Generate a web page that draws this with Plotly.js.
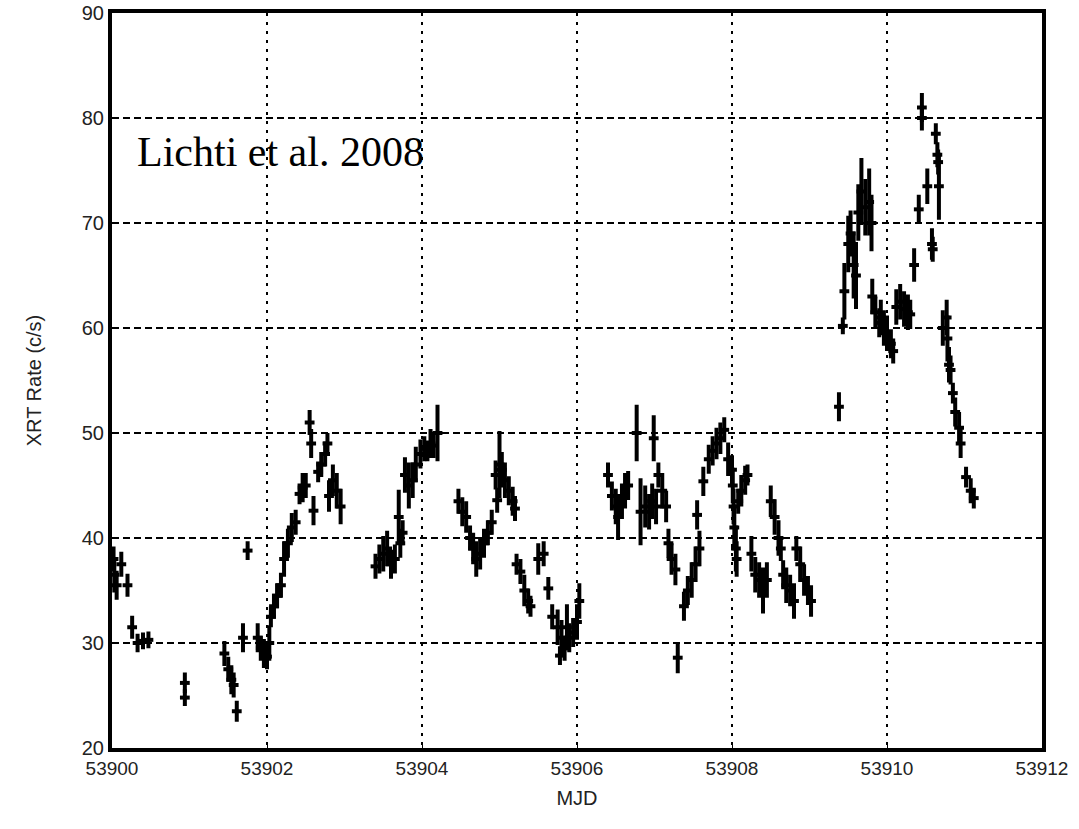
<!DOCTYPE html>
<html>
<head>
<meta charset="utf-8">
<script src="https://cdn.plot.ly/plotly-3.0.1.min.js"></script>
<style>html,body{margin:0;padding:0;background:#fff;}#chart{width:1079px;height:829px;}</style>
</head>
<body>
<div id="chart"></div>
<script>
const mjd = [
53900.02,53900.03,53900.06,53900.12,53900.20,53900.26,53900.33,53900.40,53900.47,53900.94,53900.94,
53901.45,53901.50,53901.54,53901.57,53901.61,53901.69,53901.75,53901.88,53901.92,53901.96,53902.00,53902.03,
53902.05,53902.09,53902.13,53902.18,53902.22,53902.27,53902.32,53902.37,53902.42,53902.46,53902.50,53902.55,
53902.57,53902.60,53902.66,53902.70,53902.75,53902.78,53902.80,53902.85,53902.90,53902.95,
53903.40,53903.45,53903.50,53903.55,53903.60,53903.65,53903.70,53903.72,53903.75,53903.78,53903.83,53903.88,
53903.92,53903.98,53904.03,53904.07,53904.11,53904.15,53904.20,
53904.47,53904.52,53904.57,53904.62,53904.66,53904.70,53904.75,53904.80,53904.85,53904.90,53904.95,53904.97,
53905.00,53905.03,53905.07,53905.12,53905.17,53905.20,53905.22,53905.27,53905.32,53905.37,53905.40,53905.50,
53905.57,53905.63,53905.68,53905.75,53905.78,53905.80,53905.84,53905.87,53905.90,53905.95,53906.00,53906.03,
53906.40,53906.45,53906.50,53906.53,53906.58,53906.62,53906.66,53906.77,53906.82,53906.88,53906.93,53906.97,
53906.99,53907.02,53907.05,53907.10,53907.15,53907.18,53907.22,53907.27,53907.30,53907.38,53907.43,53907.48,
53907.53,53907.55,53907.58,53907.63,53907.70,53907.75,53907.80,53907.85,53907.90,53907.95,53908.00,
53908.01,53908.02,53908.03,53908.05,53908.06,53908.08,53908.12,53908.17,53908.20,53908.25,53908.30,53908.35,
53908.40,53908.45,53908.50,53908.55,53908.60,53908.63,53908.66,53908.70,53908.75,53908.80,53908.83,53908.88,
53908.93,53908.98,53909.02,
53909.38,53909.43,53909.45,53909.50,53909.53,53909.57,53909.60,53909.63,53909.67,53909.72,53909.77,53909.80,
53909.81,53909.85,53909.90,53909.92,53909.96,53910.00,53910.05,53910.08,53910.12,53910.17,53910.22,53910.27,
53910.30,53910.35,53910.41,53910.45,53910.45,53910.52,53910.58,53910.59,53910.63,53910.65,53910.66,53910.67,
53910.72,53910.77,53910.78,53910.80,53910.82,53910.85,53910.88,53910.93,53910.95,53911.02,53911.08,53911.12
];
const rate = [
38.0,36.5,35.5,37.5,35.5,31.5,30.0,30.2,30.3,26.2,24.8,
29.0,27.5,26.5,26.0,23.5,30.5,38.8,30.5,29.5,29.0,28.7,30.0,
32.5,33.5,34.5,35.5,38.0,39.5,41.0,41.5,44.2,44.8,45.0,51.0,
49.0,42.6,46.3,47.0,48.0,49.0,44.0,45.5,44.5,43.0,
37.3,38.0,38.5,39.0,37.5,38.0,42.0,39.5,40.5,46.0,45.0,45.5,
47.0,48.0,48.5,48.3,49.0,48.8,50.0,
43.5,42.5,42.0,40.0,39.0,38.0,38.5,39.5,40.5,41.5,46.0,43.6,
47.0,46.5,45.5,44.5,43.5,42.8,37.5,36.8,35.0,34.0,33.5,38.0,
38.5,35.2,32.5,31.5,28.8,30.5,29.5,31.5,30.5,31.0,32.0,34.0,
46.0,44.0,43.0,42.0,43.5,44.5,45.0,50.0,42.5,43.0,42.5,43.5,
49.5,43.0,46.0,44.5,43.0,39.5,38.0,37.0,28.6,33.5,35.0,36.0,
37.5,42.2,39.0,45.4,47.5,48.3,49.0,49.5,50.3,47.5,46.5,
45.0,43.0,41.0,39.0,38.0,43.5,44.5,45.5,46.0,38.5,36.5,36.0,
35.0,36.0,43.5,42.0,40.0,39.0,36.5,35.5,35.0,34.0,39.0,37.5,
36.0,35.0,34.0,
52.5,60.2,63.5,68.0,69.0,66.0,65.0,71.0,73.0,71.5,72.0,70.0,
63.0,61.5,60.5,61.0,60.0,59.5,58.5,57.8,62.0,62.5,61.8,61.5,
61.3,66.0,71.3,81.0,80.0,73.5,68.0,67.5,78.5,76.5,75.8,73.5,
60.0,61.0,59.0,56.5,56.0,53.8,52.0,50.5,49.0,45.8,44.5,43.8
];
const err = [
1.0,1.5,1.2,1.0,0.9,0.9,0.7,0.6,0.6,0.8,0.6,
1.0,1.0,1.2,1.0,0.8,1.2,0.7,1.2,1.0,1.2,1.0,1.5,
0.8,1.0,1.0,1.0,1.5,1.2,1.2,1.0,0.8,1.2,1.0,1.0,
1.2,1.2,0.8,1.0,1.0,0.8,1.3,1.3,1.5,1.5,
1.0,1.2,1.5,1.5,1.2,1.2,2.4,1.2,1.0,1.5,2.0,1.5,
1.5,1.2,1.0,0.8,1.2,1.0,2.5,
1.0,1.2,1.3,1.0,1.3,1.5,1.3,1.2,1.0,1.0,1.2,1.0,
3.0,1.5,1.5,1.2,1.2,1.0,0.8,1.0,1.3,1.0,0.8,1.3,
1.0,0.9,1.0,1.5,0.7,1.5,1.0,2.0,1.2,1.2,1.5,1.5,
1.0,1.2,1.5,2.0,1.5,1.5,1.2,2.5,3.0,1.8,1.5,1.5,
2.0,1.5,1.0,1.5,1.3,1.2,1.3,1.3,1.3,1.2,1.2,1.5,
1.5,1.2,1.5,1.2,1.2,1.2,1.3,1.3,1.0,1.4,1.2,
1.5,1.5,2.0,2.0,1.5,1.0,1.3,1.2,0.8,1.5,1.5,1.5,
2.0,1.5,1.3,1.5,1.5,1.0,1.2,1.5,1.3,1.5,1.0,1.5,
1.3,1.2,1.3,
1.2,0.6,2.5,2.5,2.0,3.0,3.0,2.5,3.0,2.5,3.0,2.5,
1.5,1.3,1.2,1.5,1.5,1.5,1.2,1.0,1.5,1.5,1.5,1.5,
1.2,1.4,1.2,1.2,1.0,1.5,1.3,1.0,0.8,1.0,1.0,3.0,
1.5,1.5,2.0,1.5,1.2,0.8,1.2,1.3,1.2,0.8,1.0,0.8
];
const xTicks = [53900,53902,53904,53906,53908,53910,53912];
const xTickText = ["53900","53902","53904","53906","53908","53910","53912"];
const yTicks = [20,30,40,50,60,70,80,90];
const yTickText = ["20","30","40","50","60","70","80","90"];
const xTitle = "MJD";
const yTitle = "XRT Rate (c/s)";
const note = "Lichti et al. 2008";

const trace = {
  x: mjd, y: rate, type: 'scatter', mode: 'markers',
  marker: {symbol: 'line-ew', size: 7, color: 'black', line: {width: 4, color: 'black'}},
  error_y: {type: 'data', array: err, visible: true, color: 'black', thickness: 4, width: 2},
  showlegend: false, hoverinfo: 'skip'
};
const tickFont = {family: 'Liberation Sans Narrow, Liberation Sans, Arial, sans-serif', size: 19, color: '#222'};
const layout = {
  width: 1079, height: 829,
  margin: {l: 112, r: 37, t: 13, b: 81},
  paper_bgcolor: '#fff', plot_bgcolor: '#fff',
  xaxis: {
    range: [53900, 53912], tickvals: xTicks, ticktext: xTickText,
    showgrid: true, gridcolor: '#000', gridwidth: 2, griddash: '3px,6px',
    zeroline: false, showline: true, linecolor: '#000', linewidth: 4, mirror: true,
    ticks: 'inside', ticklen: 5, tickcolor: '#000', tickwidth: 1,
    tickfont: tickFont,
    title: {text: xTitle, font: {family: 'Liberation Sans Narrow, Liberation Sans, sans-serif', size: 20, color: '#222'}, standoff: 14}
  },
  yaxis: {
    range: [20, 90], tickvals: yTicks, ticktext: yTickText,
    showgrid: true, gridcolor: '#000', gridwidth: 2, griddash: '7px,4px',
    zeroline: false, showline: true, linecolor: '#000', linewidth: 4, mirror: true,
    ticks: 'inside', ticklen: 5, tickcolor: '#000', tickwidth: 1,
    tickfont: {family: 'Liberation Sans, Arial, sans-serif', size: 20, color: '#222'},
    title: {text: yTitle, font: {family: 'Liberation Sans Narrow, Liberation Sans, sans-serif', size: 20, color: '#222'}, standoff: 36}
  },
  annotations: [{
    xref: 'x', yref: 'y', x: 53900.3, y: 76.8, xanchor: 'left', yanchor: 'middle',
    text: note, showarrow: false,
    font: {family: 'Liberation Serif, Times New Roman, serif', size: 42, color: '#000'}
  }]
};
Plotly.newPlot('chart', [trace], layout, {displayModeBar: false, staticPlot: true});
</script>
</body>
</html>
